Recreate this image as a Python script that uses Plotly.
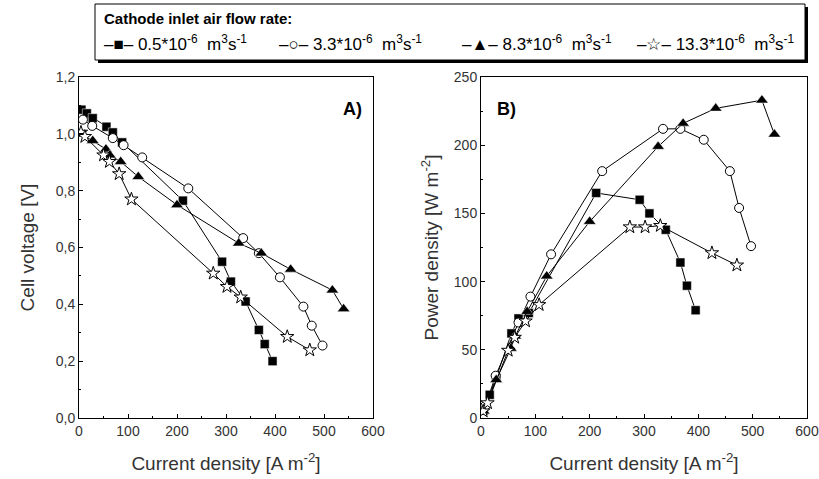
import plotly.graph_objects as go

# ---- data ----
j_sq = [5, 16, 28, 56, 69, 88, 212, 292, 310, 340, 367, 379, 395]
V_sq = [1.085, 1.072, 1.055, 1.025, 1.005, 0.97, 0.765, 0.55, 0.48, 0.41, 0.31, 0.26, 0.20]
P_sq = [5.5, 17, 29.5, 62, 73, 77, 165, 160, 150, 138, 114, 97, 79]

j_ci = [8, 27, 69, 91, 129, 223, 335, 367, 410, 458, 475, 497]
V_ci = [1.05, 1.028, 0.985, 0.96, 0.917, 0.808, 0.633, 0.58, 0.495, 0.392, 0.325, 0.255]
P_ci = [9, 31, 70, 89, 120, 181, 212, 212, 204, 181, 154, 126]

j_tr = [5, 28, 55, 63, 85, 121, 200, 326, 372, 432, 517, 540]
V_tr = [1.0, 0.976, 0.946, 0.925, 0.902, 0.849, 0.75, 0.615, 0.58, 0.523, 0.45, 0.384]
P_tr = [5, 28, 51, 60, 78, 104, 144, 199, 216, 227, 233, 208]

j_st = [4, 12, 50, 62, 82, 107, 274, 302, 330, 425, 471]
V_st = [1.005, 0.99, 0.925, 0.902, 0.859, 0.77, 0.509, 0.462, 0.425, 0.286, 0.239]
P_st = [5, 11, 49.5, 59, 71, 83, 140, 140, 141, 121, 112]

names = ["0.5*10<sup>-6</sup>  m<sup>3</sup>s<sup>-1</sup>",
         "3.3*10<sup>-6</sup>  m<sup>3</sup>s<sup>-1</sup>",
         "8.3*10<sup>-6</sup>  m<sup>3</sup>s<sup>-1</sup>",
         "13.3*10<sup>-6</sup>  m<sup>3</sup>s<sup>-1</sup>"]
legend_glyphs = ["\u2013\u25a0\u2013", "\u2013\u25cb\u2013", "\u2013\u25b2\u2013", "\u2013\u2606\u2013"]
legend_title = "<b>Cathode inlet air flow rate:</b>"

W, H = 819, 479
FONT = "Liberation Sans, Arial, sans-serif"
TXT = "#333333"

series = [
    (j_sq, V_sq, P_sq, dict(symbol="square", size=9, color="black", line=dict(color="white", width=0.5))),
    (j_ci, V_ci, P_ci, dict(symbol="circle", size=9, color="white", line=dict(color="black", width=1))),
    (j_tr, V_tr, P_tr, dict(symbol="triangle-up", size=11, color="black", line=dict(color="white", width=0.5))),
    (j_st, V_st, P_st, dict(symbol="star", size=10, color="white", line=dict(color="black", width=1))),
]

fig = go.Figure()
for i, (j, V, P, mk) in enumerate(series):
    fig.add_trace(go.Scatter(x=j, y=V, mode="lines+markers", name=names[i],
                             line=dict(color="black", width=1), marker=mk,
                             xaxis="x", yaxis="y", showlegend=False))
    fig.add_trace(go.Scatter(x=j, y=P, mode="lines+markers", name=names[i],
                             line=dict(color="black", width=1), marker=mk,
                             xaxis="x2", yaxis="y2", showlegend=False))

def px_x(p):
    return p / W

def px_y(p):
    return 1 - p / H

ybot, ytop = px_y(418), px_y(77)

axcommon = dict(showline=True, linecolor="black", linewidth=1, mirror=True,
                ticks="inside", ticklen=4, tickcolor="black", showgrid=False,
                zeroline=False, automargin=False,
                tickfont=dict(family=FONT, size=14, color=TXT),
                minor=dict(ticks="inside", ticklen=2, tickcolor="black"))

annotations = [
    dict(text="<b>A)</b>", x=px_x(352), y=px_y(97), xref="paper", yref="paper",
         showarrow=False, font=dict(family=FONT, size=18, color="black")),
    dict(text="<b>B)</b>", x=px_x(506), y=px_y(97), xref="paper", yref="paper",
         showarrow=False, font=dict(family=FONT, size=18, color="black")),
    dict(text=legend_title, x=px_x(102), y=px_y(18), xref="paper", yref="paper",
         xanchor="left", yanchor="middle", showarrow=False,
         font=dict(family=FONT, size=15, color="black")),
]
entry_x = [102, 277, 460, 635]
for g, nm, ex in zip(legend_glyphs, names, entry_x):
    annotations.append(dict(text=g + " " + nm, x=px_x(ex), y=px_y(43),
                            xref="paper", yref="paper", xanchor="left", yanchor="middle",
                            showarrow=False, font=dict(family=FONT, size=17, color="black")))

fig.update_layout(
    width=W, height=H,
    margin=dict(l=0, r=0, t=0, b=0, autoexpand=False),
    paper_bgcolor="white", plot_bgcolor="white",
    separators=",.",
    showlegend=False,
    font=dict(family=FONT, color=TXT),
    xaxis=dict(domain=[px_x(79), px_x(373)], range=[0, 600], dtick=100,
               minor_dtick=50, anchor="y",
               title=dict(text="Current density [A m<sup>-2</sup>]",
                          font=dict(family=FONT, size=19, color=TXT), standoff=18),
               **axcommon),
    yaxis=dict(domain=[ybot, ytop], range=[0, 1.2], dtick=0.2, tickformat=".1f",
               minor_dtick=0.1, anchor="x",
               title=dict(text="Cell voltage [V]",
                          font=dict(family=FONT, size=19, color=TXT), standoff=16),
               **axcommon),
    xaxis2=dict(domain=[px_x(481), px_x(807)], range=[0, 600], dtick=100,
                minor_dtick=50, anchor="y2",
                title=dict(text="Current density [A m<sup>-2</sup>]",
                           font=dict(family=FONT, size=19, color=TXT), standoff=18),
                **axcommon),
    yaxis2=dict(domain=[ybot, ytop], range=[0, 250], dtick=50,
                minor_dtick=25, anchor="x2",
                title=dict(text="Power density [W m<sup>-2</sup>]",
                           font=dict(family=FONT, size=19, color=TXT), standoff=10),
                **axcommon),
    annotations=annotations,
    shapes=[
        # legend box shadow
        dict(type="rect", xref="paper", yref="paper", layer="above",
             x0=px_x(98), x1=px_x(808), y0=px_y(63), y1=px_y(7),
             fillcolor="black", line=dict(width=0)),
        # legend box
        dict(type="rect", xref="paper", yref="paper", layer="above",
             x0=px_x(95), x1=px_x(805), y0=px_y(60), y1=px_y(4),
             fillcolor="white", line=dict(color="black", width=1)),
    ],
)

fig.write_html("out.html", config={"displayModeBar": False},
               post_script="document.body.style.margin='0';document.body.style.padding='0';")
